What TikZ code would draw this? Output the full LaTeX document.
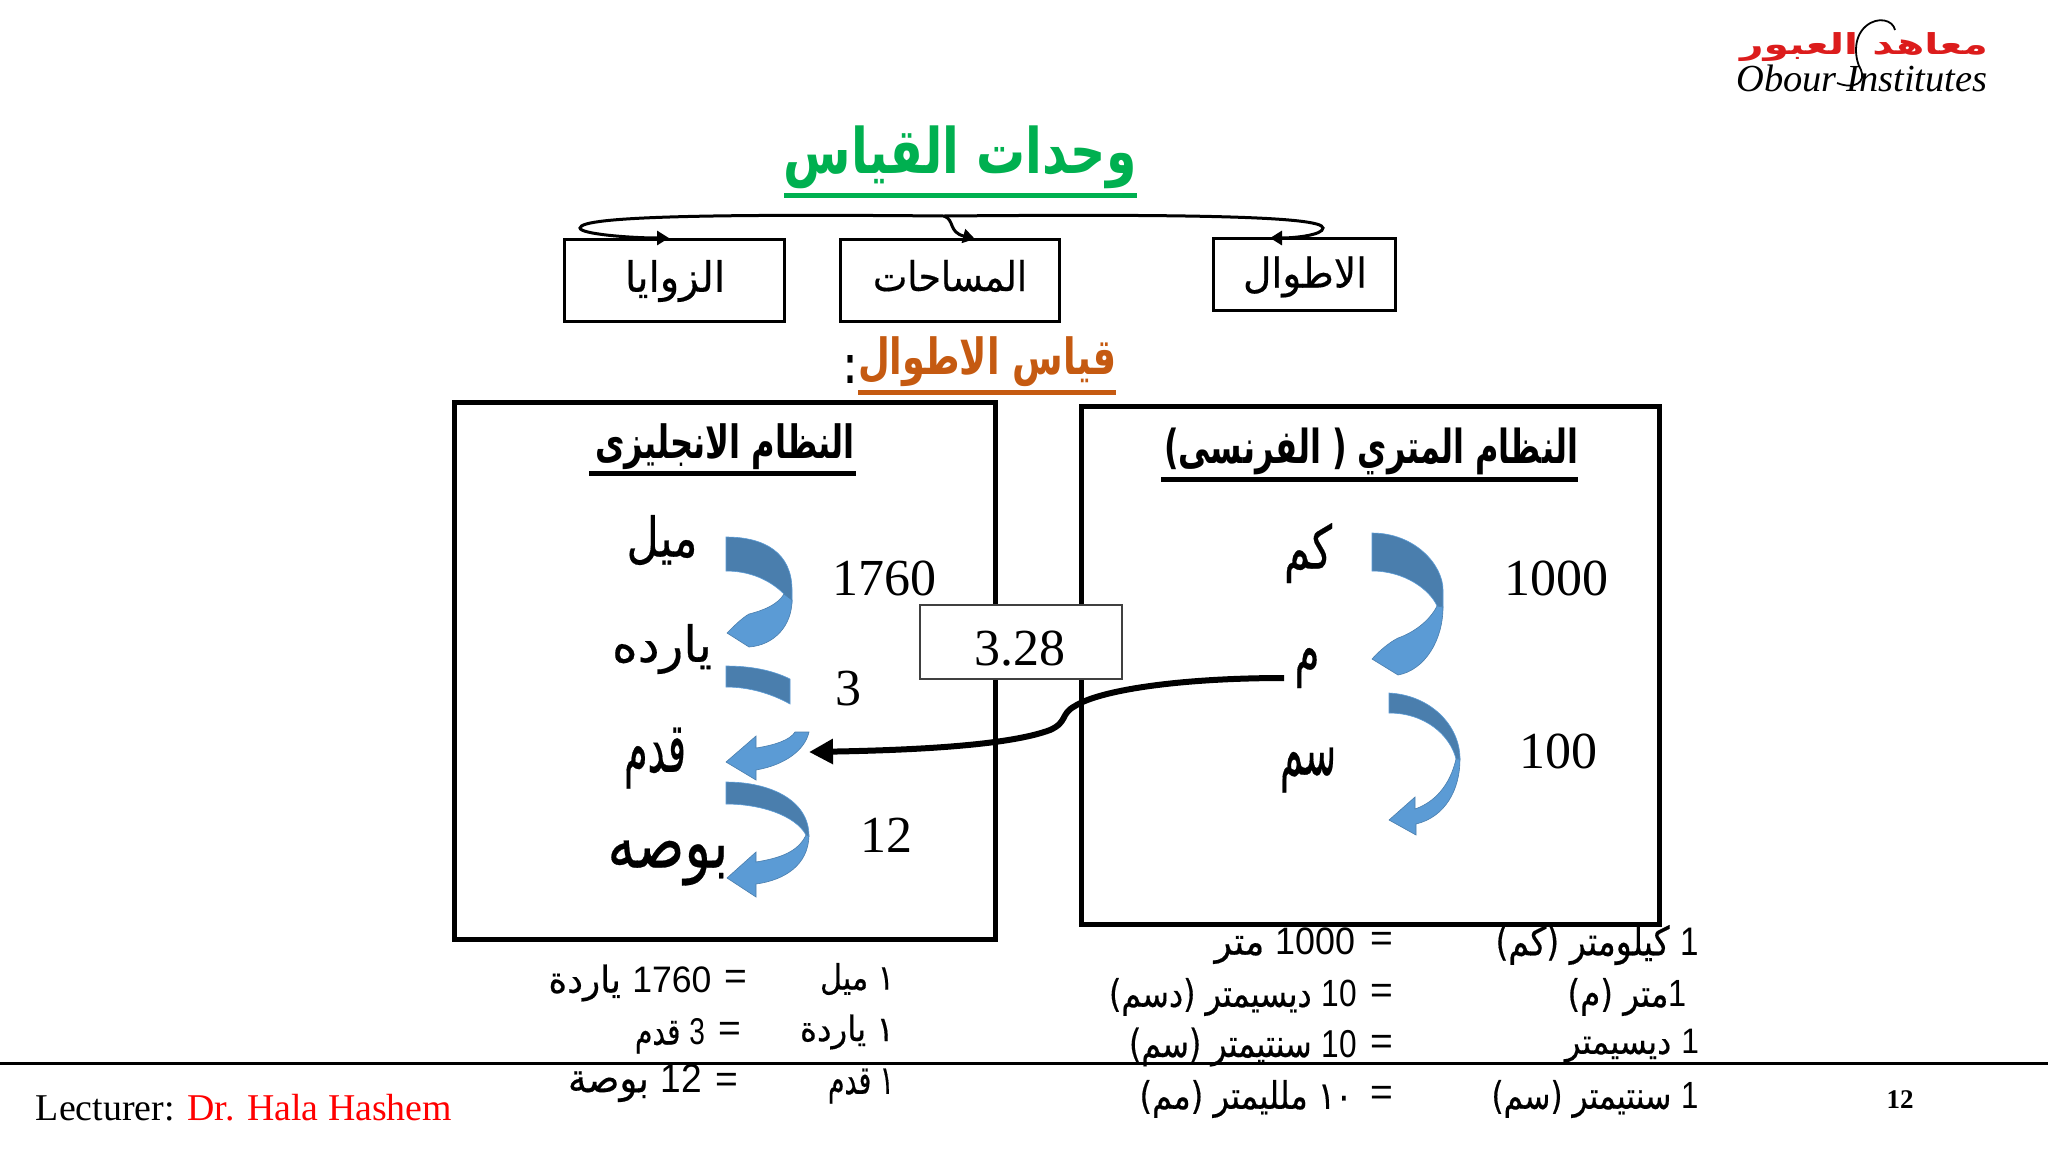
\documentclass[tikz,border=0pt]{standalone}
\usepackage{graphicx}
\usepackage{fontspec}
\usetikzlibrary{arrows.meta}
\setmainfont{Liberation Serif}
\newfontfamily\arfont[Script=Arabic,FakeBold=0.4,BoldFeatures={FakeBold=0}]{DejaVu Sans}
\newfontfamily\lsans{Liberation Sans}
\TeXXeTstate=1
\newdimen\upx \upx=0.5pt
\newcommand{\AR}[1]{{\arfont\beginR #1\endR}}
\newcommand{\LT}[1]{\beginL{\lsans #1}\endL}
\newcommand{\fitwh}[3]{\resizebox*{#1\upx}{#2\upx}{#3}}
\newcommand{\fitw}[2]{\resizebox{#1\upx}{!}{#2}}
\definecolor{arrdark}{HTML}{4A7EAD}
\definecolor{arrlight}{HTML}{5B9BD5}
\definecolor{ttlgreen}{HTML}{00B050}
\definecolor{ttlorange}{HTML}{C55A11}
\definecolor{boxgrey}{HTML}{404040}
\definecolor{logored}{HTML}{DC1C1C}
\tikzset{
  txt/.style={inner sep=0pt,outer sep=0pt,anchor=center},
  catbox/.style={draw=black,line width=1.5pt,fill=white,inner sep=0pt,outer sep=0pt},
  sysbox/.style={draw=black,line width=2.5pt,inner sep=0pt,outer sep=0pt},
  factorbox/.style={draw=boxgrey,line width=1pt,fill=white,inner sep=0pt,outer sep=0pt},
  bracket/.style={draw=black,line width=1.5pt},
  brackettip/.style={-{Triangle[length=6pt,width=7pt]}},
  longconn/.style={draw=black,line width=3pt,-{Triangle[length=12pt,width=12pt]}},
  ulin/.style={line width=2.5pt},
  darkband/.style={fill=arrdark,draw=arrlight,line width=0.3pt},
  lightband/.style={fill=arrlight,draw=arrdark,line width=0.3pt},
  num/.style={txt,font=\fontsize{26}{30}\selectfont},
  eqs/.style={txt,font=\lsans\fontsize{19.5}{22}\selectfont},
}
\begin{document}
\begin{tikzpicture}[x=0.5pt,y=-0.5pt]
\useasboundingbox (0,0) rectangle (2048,1152);
\fill[white] (0,0) rectangle (2048,1152);

% logo
\node[txt,text=logored] (logoar) at (1864,47) {\fitwh{248}{29}{\bfseries\AR{معاهد العبور}}};
\node[txt] (logoen) at (1862,78) {\fitwh{251}{27}{\itshape Obour Institutes}};
\draw[line width=0.9pt] (1895,30) .. controls (1893,20) and (1878,16) .. (1866,26) .. controls (1852,38) and (1855,60) .. (1861,70) .. controls (1866,82) and (1855,90) .. (1837,83);

% titles
\node[txt,text=ttlgreen] (title) at (960,157) {\fitwh{353}{63}{\bfseries\AR{وحدات القياس}}};
\draw[ttlgreen,line width=2.5pt] (784,195) -- (1137,195);

% category boxes
\node[catbox,minimum width=110pt,minimum height=41pt] (zawaya) at (674,280) {};
\node[catbox,minimum width=109.5pt,minimum height=41pt] (masahat) at (949.5,280) {};
\node[catbox,minimum width=91pt,minimum height=36pt] (atwal) at (1304,274) {};
\node[txt] (zawayat) at (675,281) {\fitwh{100}{42}{\AR{الزوايا}}};
\node[txt] (masahatt) at (950,276) {\fitwh{154}{32}{\AR{المساحات}}};
\node[txt] (atwalt) at (1305,277) {\fitwh{124}{41}{\AR{الاطوال}}};

% bracket
\coordinate (hub) at (944,216);
\coordinate (rtip) at (1323,228);
\coordinate (ltip) at (580,228);
\coordinate (atip) at (1270,238);
\coordinate (ztip) at (669,238);
\coordinate (mtip) at (975,239);
\draw[bracket,brackettip] (hub) .. controls (1180,214) and (1323,216) .. (rtip) .. controls (1323,235) and (1295,238) .. (atip);
\draw[bracket,brackettip] (hub) .. controls (720,214) and (580,216) .. (ltip) .. controls (580,234) and (630,238) .. (ztip);
\draw[bracket,brackettip] (hub) .. controls (955,220) and (948,232) .. (mtip);

% subtitle
\node[txt,text=ttlorange] (subtitle) at (987,362) {\fitwh{258}{50}{\bfseries\AR{قياس الاطوال}}};
\node[txt] (colon) at (850,369) {\fitwh{12}{28}{\bfseries\lsans :}};
\draw[ttlorange,ulin] (858,392) -- (1116,392);

% system boxes
\node[sysbox,minimum width=270.5pt,minimum height=268.5pt] (english) at (724.5,670.5) {};
\node[sysbox,minimum width=289pt,minimum height=259pt] (metric) at (1370,665) {};

\node[txt] (enhead) at (725,447) {\fitwh{260}{46}{\bfseries\AR{النظام الانجليزى}}};
\draw[ulin] (589,473) -- (856,473);
\node[txt] (mehead) at (1371,451) {\fitwh{414}{47}{\bfseries\AR{النظام المتري ( الفرنسى)}}};
\draw[ulin] (1161,479) -- (1578,479);

% curved arrows, English
\path[darkband] (726,537) .. controls (765,537) and (792,553) .. (792,590) -- (792,603) -- (784,594) .. controls (770,580) and (750,571) .. (726,571) -- cycle;
\path[lightband] (792,600) .. controls (792,625) and (775,645) .. (749,647) -- (727,633) .. controls (735,625) and (742,618) .. (749,614) .. controls (765,610) and (778,604) .. (784,594) -- cycle;
\path[darkband] (726,666) .. controls (750,666) and (772,670) .. (790,679) -- (790,704) .. controls (772,694) and (750,687) .. (726,687) -- cycle;
\path[lightband] (795,732) -- (809,732) .. controls (805,750) and (785,765) .. (756,770) -- (756,780) -- (726,762) -- (756,736) -- (756,748) .. controls (775,745) and (790,740) .. (795,732) -- cycle;
\path[darkband] (726,782) .. controls (770,782) and (809,800) .. (809,836) -- (806,835) .. controls (795,815) and (760,804) .. (726,804) -- cycle;
\path[lightband] (809,836) .. controls (808,865) and (785,880) .. (756,884) -- (756,897) -- (727,878) -- (756,852) -- (756,862) .. controls (780,858) and (798,852) .. (806,835) -- cycle;

% curved arrows, metric
\path[darkband] (1372,533) .. controls (1415,533) and (1443,565) .. (1443,590) -- (1443,607) -- (1437,606) .. controls (1430,590) and (1405,571) .. (1372,571) -- cycle;
\path[lightband] (1443,607) .. controls (1443,640) and (1425,670) .. (1398,675) -- (1372,659) .. controls (1380,650) and (1390,642) .. (1398,638) .. controls (1415,632) and (1430,620) .. (1437,606) -- cycle;
\path[darkband] (1389,693) .. controls (1430,695) and (1460,725) .. (1460,759) -- (1456,759) .. controls (1450,735) and (1425,713) .. (1389,713) -- cycle;
\path[lightband] (1460,759) .. controls (1460,790) and (1445,817) .. (1416,824) -- (1416,835) -- (1389,820) -- (1415,797) -- (1415,809) .. controls (1435,802) and (1450,785) .. (1456,759) -- cycle;

% English items
\node[txt] (mil) at (662,540) {\fitwh{71}{50}{\AR{ميل}}};
\node[txt] (yarda) at (662,649) {\fitwh{100}{50}{\AR{يارده}}};
\node[txt] (qadam) at (655,758) {\fitwh{62}{61}{\AR{قدم}}};
\node[txt] (bosa) at (668,863) {\fitwh{121}{45}{\AR{بوصه}}};
\node[num] (n1760) at (884,578) {1760};
\node[num] (n3) at (848,689) {3};
\node[num] (n12) at (886,835) {12};

% metric items
\node[txt] (km) at (1308,553) {\fitwh{48}{60}{\AR{كم}}};
\node[txt] (m) at (1307,668) {\fitwh{25}{40}{\AR{م}}};
\node[txt] (cm) at (1308,770) {\fitwh{56}{45}{\AR{سم}}};
\node[num] (n1000) at (1556,578) {1000};
\node[num] (n100) at (1558,751) {100};

% factor box and connector
\node[factorbox,minimum width=101pt,minimum height=37pt] (factor) at (1021,642) {};
\node[num] (factort) at (1020,649) {3.28};
\coordinate (connstart) at (1284,678);
\coordinate (connend) at (809,752);
\draw[longconn] (connstart) .. controls (1180,678) and (1100,690) .. (1075,706) .. controls (1060,714) and (1068,722) .. (1050,730) .. controls (1010,745) and (920,750) .. (connend);

% footer rule
\draw[line width=1.5pt] (0,1063) -- (2048,1063);

% left table
\node[txt] (l1a) at (857,979) {\fitwh{74}{32}{\AR{١ ميل}}};
\node[eqs] (l1e) at (736,980) {=};
\node[txt] (l1b) at (630,983) {\fitwh{163}{37}{\AR{\LT{1760} ياردة}}};
\node[txt] (l2a) at (847,1032) {\fitwh{94}{35}{\AR{١ ياردة}}};
\node[eqs] (l2e) at (730,1032) {=};
\node[txt] (l2b) at (670,1036) {\fitwh{70}{35}{\AR{\LT{3} قدم}}};
\node[txt] (l3a) at (861,1086) {\fitwh{66}{35}{\AR{١ قدم}}};
\node[eqs] (l3e) at (727,1083) {=};
\node[txt] (l3b) at (635,1083) {\fitwh{134}{38}{\AR{\LT{12} بوصة}}};

% right table
\node[txt] (r1a) at (1597,945) {\fitwh{203}{40}{\AR{\LT{1} كيلومتر (كم)}}};
\node[eqs] (r1e) at (1382,942) {=};
\node[txt] (r1b) at (1285,946) {\fitwh{141}{36}{\AR{\LT{1000} متر}}};
\node[txt] (r2a) at (1627,997) {\fitwh{119}{38}{\AR{\LT{1}متر (م)}}};
\node[eqs] (r2e) at (1382,994) {=};
\node[txt] (r2b) at (1233,997) {\fitwh{248}{38}{\AR{\LT{10} ديسيمتر (دسم)}}};
\node[txt] (r3a) at (1632,1046) {\fitwh{134}{33}{\AR{\LT{1} ديسيمتر}}};
\node[eqs] (r3e) at (1382,1045) {=};
\node[txt] (r3b) at (1243,1047) {\fitwh{228}{39}{\AR{\LT{10} سنتيمتر (سم)}}};
\node[txt] (r4a) at (1595,1099) {\fitwh{207}{38}{\AR{\LT{1} سنتيمتر (سم)}}};
\node[eqs] (r4e) at (1382,1096) {=};
\node[txt] (r4b) at (1246,1099) {\fitwh{213}{38}{\AR{١٠ ملليمتر (مم)}}};

% footer
\node[txt] (lecturer) at (244,1108) {\fitw{416}{Lecturer: \textcolor{red}{Dr. Hala Hashem}}};
\node[txt] (pagenum) at (1900,1100) {\fontsize{13.5}{16}\selectfont\bfseries 12};
\end{tikzpicture}
\end{document}
